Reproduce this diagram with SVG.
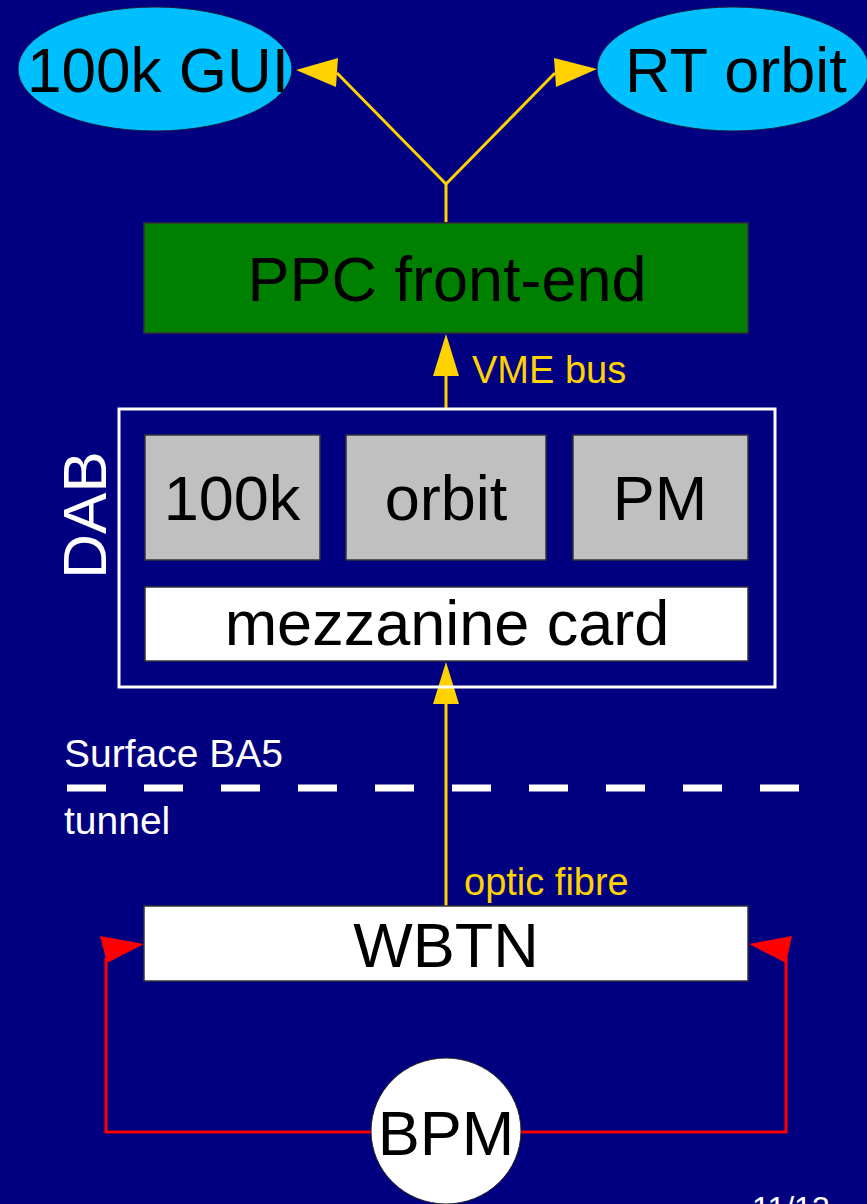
<svg xmlns="http://www.w3.org/2000/svg" width="867" height="1204" viewBox="0 0 867 1204">
<style>
text{font-family:"Liberation Sans",Arial,sans-serif}
.big{font-size:63px;fill:#000;text-anchor:middle}
.lbl{font-size:38px;fill:#FFD200}
.wl{font-size:39px;fill:#fff}
.box{stroke:#333;stroke-width:1.5}
.yl{stroke:#FFD200;stroke-width:3;fill:none}
.ya{fill:#FFD200}
.rl{stroke:#FF0000;stroke-width:3;fill:none}
.ra{fill:#FF0000}
</style>
<rect x="0" y="0" width="867" height="1204" fill="#000080"/>
<g id="connectors">
<polyline class="yl" points="446,222 446,184 337,73"/>
<polygon class="ya" points="296,70 338,58 336,87"/>
<polyline class="yl" points="446,184 555,73"/>
<polygon class="ya" points="597,69 554,58 556,87"/>
<line class="yl" x1="446" y1="408" x2="446" y2="370"/>
<polygon class="ya" points="446,334 433,376 459,376"/>
<line class="yl" x1="446" y1="906" x2="446" y2="698"/>
<polygon class="ya" points="446,662 433,704 459,704"/>
<polyline class="rl" points="372,1132 106,1132 106,958"/>
<polygon class="ra" points="100,936 144,944 107,963"/>
<polyline class="rl" points="520,1132 786,1132 786,958"/>
<polygon class="ra" points="792,936 749,944 786,963"/>
<line x1="67" y1="788" x2="799" y2="788" stroke="#fff" stroke-width="7" stroke-dasharray="39 38"/>
<text class="lbl" x="472" y="383">VME bus</text>
<text class="lbl" x="464" y="895">optic fibre</text>
</g>
<g id="gui">
<ellipse cx="155" cy="69" rx="137" ry="62" fill="#00BFFF" stroke="#1a1a40" stroke-width="1"/>
<text class="big" x="158" y="92" textLength="262" lengthAdjust="spacingAndGlyphs">100k GUI</text>
</g>
<g id="rtorbit">
<ellipse cx="733" cy="69" rx="136" ry="62" fill="#00BFFF" stroke="#1a1a40" stroke-width="1"/>
<text class="big" x="736" y="92">RT orbit</text>
</g>
<g id="ppc">
<rect class="box" x="144" y="223" width="604" height="110" fill="#008000"/>
<text class="big" x="447" y="301">PPC front-end</text>
</g>
<g id="dab">
<rect x="119" y="409" width="656" height="278" fill="none" stroke="#fff" stroke-width="3"/>
<text x="0" y="0" transform="translate(106,515) rotate(-90)" font-size="62" fill="#fff" text-anchor="middle">DAB</text>
</g>
<g id="m100k">
<rect class="box" x="145" y="435" width="175" height="125" fill="#C0C0C0"/>
<text class="big" x="232" y="520">100k</text>
</g>
<g id="morbit">
<rect class="box" x="346" y="435" width="200" height="125" fill="#C0C0C0"/>
<text class="big" x="446" y="520">orbit</text>
</g>
<g id="mpm">
<rect class="box" x="573" y="435" width="175" height="125" fill="#C0C0C0"/>
<text class="big" x="660" y="520">PM</text>
</g>
<g id="mezz">
<rect class="box" x="145" y="587" width="603" height="74" fill="#fff"/>
<text class="big" x="447" y="645">mezzanine card</text>
</g>
<g id="levels">
<text class="wl" x="64" y="767">Surface BA5</text>
<text class="wl" x="64" y="834">tunnel</text>
</g>
<g id="wbtn">
<rect class="box" x="144" y="906" width="604" height="75" fill="#fff"/>
<text class="big" x="446" y="967">WBTN</text>
</g>
<g id="bpm">
<ellipse cx="446" cy="1131" rx="75" ry="73" fill="#fff" stroke="#222" stroke-width="1"/>
<text class="big" x="446" y="1155">BPM</text>
</g>
<text x="752" y="1219" font-size="32" fill="#fff">11/13</text>
</svg>
